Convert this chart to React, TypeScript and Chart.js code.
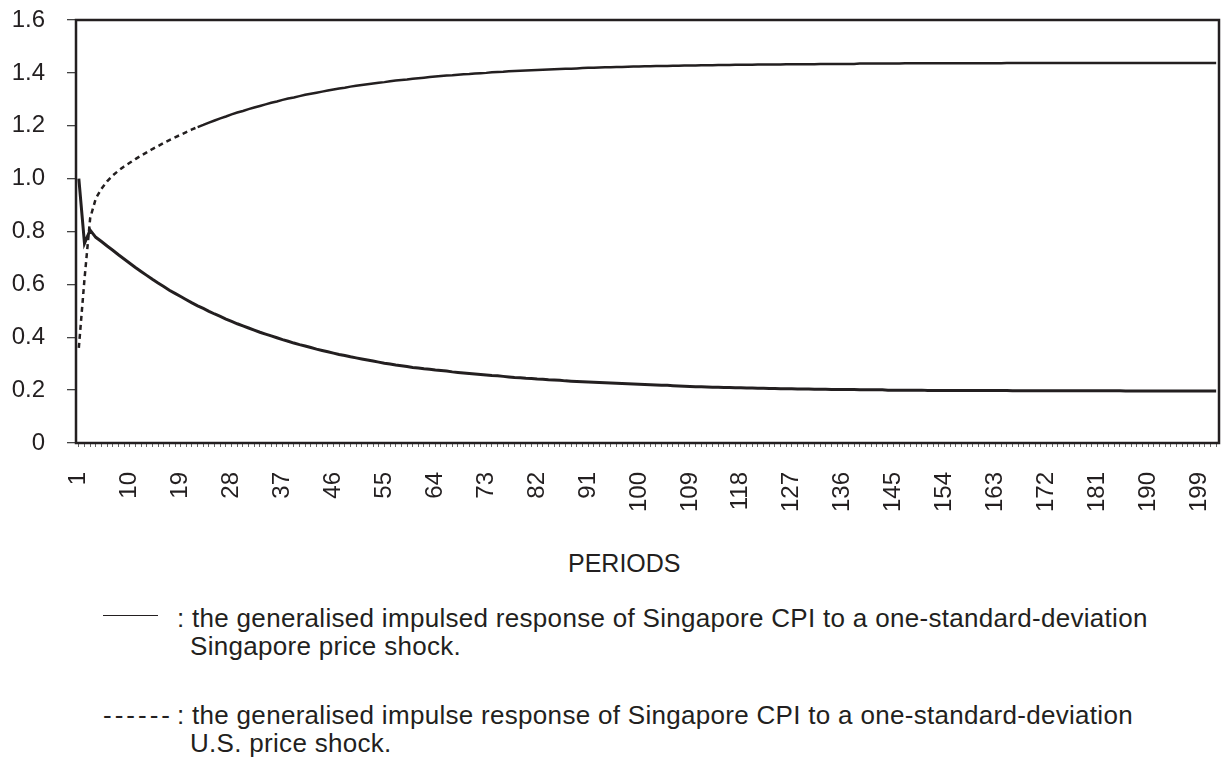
import React, { useEffect, useRef } from "react";
import { Chart, registerables } from "chart.js";

Chart.register(...registerables);

const periods: string[] = Array.from({ length: 202 }, (_, i) => String(i + 1));

const xTickLabels = [
  "1", "10", "19", "28", "37", "46", "55", "64", "73", "82", "91", "100",
  "109", "118", "127", "136", "145", "154", "163", "172", "181", "190", "199",
];

const yTickLabels = ["0", "0.2", "0.4", "0.6", "0.8", "1.0", "1.2", "1.4", "1.6"];

// Response of Singapore CPI to a Singapore price shock (solid)
const singaporeShock = [
  1.0, 0.755, 0.805, 0.778, 0.762, 0.745, 0.729, 0.712, 0.696, 0.68,
  0.664, 0.649, 0.634, 0.619, 0.605, 0.592, 0.578, 0.566, 0.554, 0.542,
  0.53, 0.519, 0.509, 0.498, 0.488, 0.479, 0.469, 0.46, 0.451, 0.443,
  0.435, 0.427, 0.419, 0.412, 0.405, 0.398, 0.391, 0.385, 0.378, 0.372,
  0.367, 0.361, 0.355, 0.35, 0.345, 0.34, 0.335, 0.331, 0.326, 0.322,
  0.318, 0.314, 0.31, 0.306, 0.302, 0.299, 0.295, 0.292, 0.289, 0.286,
  0.284, 0.281, 0.279, 0.276, 0.274, 0.272, 0.269, 0.267, 0.265, 0.263,
  0.261, 0.259, 0.257, 0.255, 0.254, 0.252, 0.25, 0.248, 0.247, 0.245,
  0.244, 0.242, 0.241, 0.239, 0.238, 0.237, 0.235, 0.234, 0.233, 0.232,
  0.231, 0.23, 0.229, 0.228, 0.227, 0.226, 0.225, 0.224, 0.223, 0.222,
  0.221, 0.22, 0.219, 0.218, 0.218, 0.217, 0.216, 0.215, 0.214, 0.213,
  0.213, 0.212, 0.211, 0.211, 0.21, 0.21, 0.209, 0.209, 0.208, 0.208,
  0.207, 0.207, 0.206, 0.206, 0.205, 0.205, 0.205, 0.204, 0.204, 0.204,
  0.203, 0.203, 0.203, 0.202, 0.202, 0.202, 0.202, 0.202, 0.201, 0.201,
  0.201, 0.201, 0.201, 0.2, 0.2, 0.2, 0.2, 0.2, 0.2, 0.2,
  0.199, 0.199, 0.199, 0.199, 0.199, 0.199, 0.199, 0.199, 0.199, 0.199,
  0.199, 0.199, 0.199, 0.199, 0.199, 0.198, 0.198, 0.198, 0.198, 0.198,
  0.198, 0.198, 0.198, 0.198, 0.198, 0.198, 0.198, 0.198, 0.198, 0.198,
  0.198, 0.198, 0.198, 0.198, 0.198, 0.197, 0.197, 0.197, 0.197, 0.197,
  0.197, 0.197, 0.197, 0.197, 0.197, 0.197, 0.197, 0.197, 0.197, 0.197,
  0.197, 0.197,
];

// Response of Singapore CPI to a U.S. price shock (dotted)
const usShock = [
  0.36, 0.62, 0.85, 0.925, 0.962, 0.99, 1.012, 1.03, 1.046, 1.06,
  1.074, 1.087, 1.099, 1.112, 1.123, 1.135, 1.146, 1.156, 1.166, 1.176,
  1.186, 1.195, 1.203, 1.212, 1.22, 1.228, 1.235, 1.243, 1.25, 1.256,
  1.263, 1.269, 1.275, 1.281, 1.287, 1.292, 1.298, 1.303, 1.307, 1.312,
  1.317, 1.321, 1.325, 1.329, 1.333, 1.337, 1.341, 1.344, 1.348, 1.351,
  1.354, 1.357, 1.36, 1.363, 1.365, 1.368, 1.371, 1.373, 1.375, 1.378,
  1.38, 1.382, 1.384, 1.386, 1.388, 1.39, 1.391, 1.393, 1.395, 1.396,
  1.398, 1.399, 1.4, 1.402, 1.403, 1.404, 1.406, 1.407, 1.408, 1.409,
  1.41, 1.411, 1.412, 1.413, 1.414, 1.415, 1.416, 1.416, 1.417, 1.418,
  1.419, 1.419, 1.42, 1.421, 1.421, 1.422, 1.422, 1.423, 1.424, 1.424,
  1.425, 1.425, 1.426, 1.426, 1.426, 1.427, 1.427, 1.428, 1.428, 1.428,
  1.429, 1.429, 1.429, 1.43, 1.43, 1.43, 1.431, 1.431, 1.431, 1.431,
  1.432, 1.432, 1.432, 1.432, 1.432, 1.433, 1.433, 1.433, 1.433, 1.433,
  1.433, 1.434, 1.434, 1.434, 1.434, 1.434, 1.434, 1.434, 1.435, 1.435,
  1.435, 1.435, 1.435, 1.435, 1.435, 1.435, 1.436, 1.436, 1.436, 1.436,
  1.436, 1.436, 1.436, 1.436, 1.436, 1.436, 1.436, 1.436, 1.436, 1.436,
  1.436, 1.436, 1.436, 1.436, 1.437, 1.437, 1.437, 1.437, 1.437, 1.437,
  1.437, 1.437, 1.437, 1.437, 1.437, 1.437, 1.437, 1.437, 1.437, 1.437,
  1.437, 1.437, 1.437, 1.437, 1.437, 1.437, 1.437, 1.437, 1.437, 1.437,
  1.437, 1.437, 1.437, 1.437, 1.437, 1.437, 1.437, 1.437, 1.437, 1.437,
  1.437, 1.437,
];

const INK = "#231f20";
const FONT = "'Liberation Sans', Arial, Helvetica, sans-serif";

const framePlugin = {
  id: "frame",
  afterDatasetsDraw(chart: any) {
    const { ctx, chartArea } = chart;
    ctx.save();
    ctx.strokeStyle = INK;
    ctx.lineWidth = 2.5;
    ctx.strokeRect(
      chartArea.left,
      chartArea.top,
      chartArea.right - chartArea.left,
      chartArea.bottom - chartArea.top
    );
    ctx.restore();
  },
};

function zeroPadding(scale: any) {
  scale.paddingLeft = 0;
  scale.paddingRight = 0;
  scale.paddingTop = 0;
  scale.paddingBottom = 0;
}

function ChartCanvas() {
  const ref = useRef<HTMLCanvasElement | null>(null);
  useEffect(() => {
    if (!ref.current) return;
    Chart.defaults.font.family = FONT;
    const chart = new Chart(ref.current, {
      type: "line",
      data: {
        labels: periods,
        datasets: [
          {
            label: "Singapore price shock",
            data: singaporeShock,
            borderColor: INK,
            borderWidth: 3,
            pointRadius: 0,
            tension: 0,
            fill: false,
          },
          {
            label: "U.S. price shock",
            data: usShock,
            borderColor: INK,
            borderWidth: 2.5,
            pointRadius: 0,
            tension: 0,
            fill: false,
            borderDash: [],
            segment: {
              borderDash: (ctx: any) => (ctx.p0DataIndex < 21 ? [5, 4] : []),
            },
          } as any,
        ],
      },
      options: {
        animation: false,
        responsive: true,
        maintainAspectRatio: false,
        layout: { padding: { left: 0, right: 4, top: 20, bottom: 0 } },
        plugins: { legend: { display: false }, tooltip: { enabled: false } },
        scales: {
          x: {
            offset: true,
            border: { display: false },
            grid: {
              display: true,
              drawOnChartArea: false,
              drawTicks: true,
              tickLength: 4,
              color: "#666",
              lineWidth: 1,
            },
            ticks: {
              autoSkip: false,
              maxRotation: 90,
              minRotation: 90,
              padding: 25,
              color: INK,
              font: { size: 24, family: FONT },
              callback: (_v: any, index: number) =>
                xTickLabels.includes(periods[index]) ? periods[index] : "",
            },
            afterFit: (scale: any) => {
              scale.height = 87;
              zeroPadding(scale);
            },
          },
          y: {
            min: 0,
            max: 1.6,
            border: { display: false },
            grid: {
              display: true,
              drawOnChartArea: false,
              drawTicks: true,
              tickLength: 9,
              color: "#444",
              lineWidth: 1.3,
            },
            ticks: {
              stepSize: 0.2,
              padding: 22,
              color: INK,
              font: { size: 24, family: FONT },
              callback: (_v: any, index: number) => yTickLabels[index],
            },
            afterFit: (scale: any) => {
              scale.width = 76;
              zeroPadding(scale);
            },
          },
        },
      },
      plugins: [framePlugin],
    });
    return () => chart.destroy();
  }, []);
  return <canvas ref={ref} />;
}

const textStyle: React.CSSProperties = {
  position: "absolute",
  fontFamily: FONT,
  fontSize: 26,
  lineHeight: "30px",
  letterSpacing: "0.3px",
  color: INK,
  whiteSpace: "nowrap",
};

export default function App() {
  return (
    <div
      style={{
        position: "absolute",
        left: 0,
        top: 0,
        width: 1223,
        height: 762,
        background: "#fff",
        overflow: "hidden",
      }}
    >
      <div style={{ position: "absolute", left: 0, top: 0, width: 1223, height: 530 }}>
        <ChartCanvas />
      </div>
      <div
        style={{
          ...textStyle,
          fontSize: 25,
          letterSpacing: "0px",
          left: 568,
          top: 548,
        }}
      >
        PERIODS
      </div>
      <div
        style={{
          position: "absolute",
          left: 103,
          top: 615,
          width: 55,
          height: 0,
          borderTop: `1.5px solid ${INK}`,
        }}
      />
      <div style={{ ...textStyle, left: 177, top: 603 }}>
        : the generalised impulsed response of Singapore CPI to a one-standard-deviation
      </div>
      <div style={{ ...textStyle, left: 190, top: 631 }}>Singapore price shock.</div>
      <div style={{ ...textStyle, left: 103, top: 700, letterSpacing: "3px" }}>------</div>
      <div style={{ ...textStyle, left: 177, top: 700 }}>
        : the generalised impulse response of Singapore CPI to a one-standard-deviation
      </div>
      <div style={{ ...textStyle, left: 190, top: 728 }}>U.S. price shock.</div>
    </div>
  );
}
